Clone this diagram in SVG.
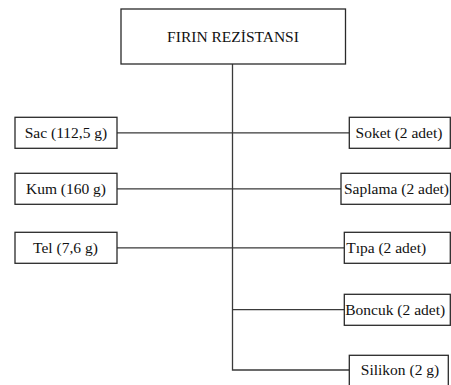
<svg xmlns="http://www.w3.org/2000/svg" width="451" height="385" viewBox="0 0 451 385">
<style>
.box{fill:#fff;stroke:#2a2a2a;stroke-width:1.3}
.t{font-family:'Liberation Serif','Times New Roman','DejaVu Serif',serif;font-size:15.5px;fill:#111;text-anchor:middle}
.c{fill:none;stroke:#3a3a3a;stroke-width:1.3}
</style>
<rect width="451" height="385" fill="#fff"/>
<g id="connectors">
<path class="c" d="M232.5 64V370H349"/>
<path class="c" d="M117 132.8H349.3M117 188.8H341M117 247.8H344.3M232.5 309.7H344.3"/>
</g>
<g id="root"><rect class="box" x="121" y="9" width="224.5" height="55"/><text class="t" font-family="Liberation Serif, serif" x="233" y="42">FIRIN REZİSTANSI</text></g>
<g id="sac"><rect class="box" x="15" y="117.3" width="102" height="31"/><text class="t" font-family="Liberation Serif, serif" x="66" y="138">Sac (112,5 g)</text></g>
<g id="kum"><rect class="box" x="15" y="173.3" width="102" height="31"/><text class="t" font-family="Liberation Serif, serif" x="66" y="194">Kum (160 g)</text></g>
<g id="tel"><rect class="box" x="15" y="232.3" width="102" height="31"/><text class="t" font-family="Liberation Serif, serif" x="65.5" y="253">Tel (7,6 g)</text></g>
<g id="soket"><rect class="box" x="349.3" y="117.3" width="101" height="31"/><text class="t" font-family="Liberation Serif, serif" x="399" y="138">Soket (2 adet)</text></g>
<g id="saplama"><rect class="box" x="341" y="173.3" width="109.5" height="31"/><text class="t" font-family="Liberation Serif, serif" x="396.5" y="194">Saplama (2 adet)</text></g>
<g id="tipa"><rect class="box" x="344.3" y="232.3" width="106" height="31"/><text class="t" font-family="Liberation Serif, serif" x="386.2" y="253">Tıpa (2 adet)</text></g>
<g id="boncuk"><rect class="box" x="344.3" y="294.3" width="106" height="31"/><text class="t" font-family="Liberation Serif, serif" x="395.2" y="315">Boncuk (2 adet)</text></g>
<g id="silikon"><rect class="box" x="349.3" y="355.3" width="99" height="40"/><text class="t" font-family="Liberation Serif, serif" x="400" y="375">Silikon (2 g)</text></g>
</svg>
